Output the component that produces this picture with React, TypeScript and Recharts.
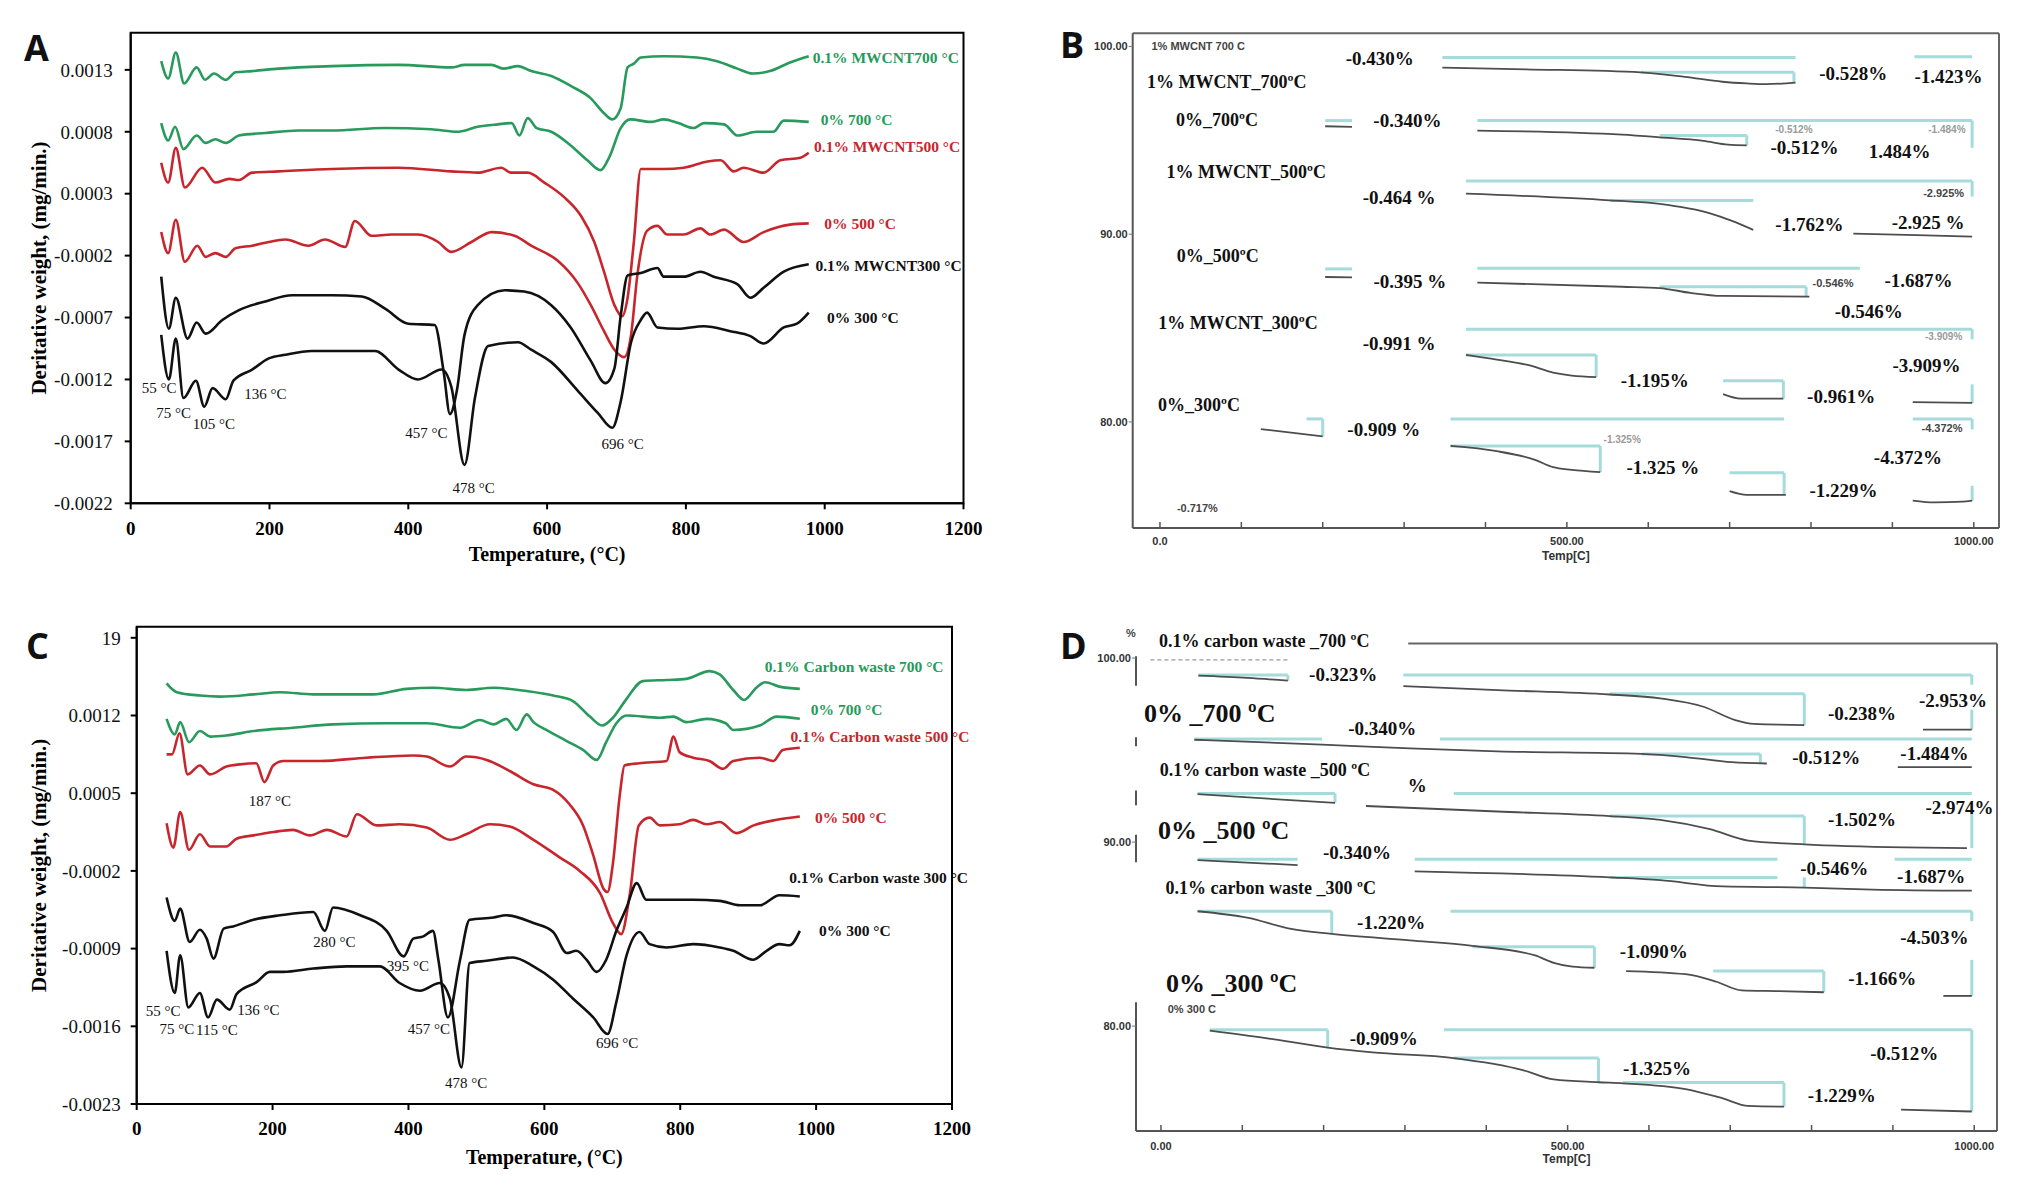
import React from "react";
import {
  LineChart,
  Line,
  XAxis,
  YAxis,
  ReferenceDot,
  ReferenceLine,
  ReferenceArea,
  Label,
} from "recharts";

type Pt = [number, number];
type Txt = [string, number, number];
type HSeg = [number, number, number]; // t1, t2, v
type VSeg = [number, number, number]; // t, v1, v2

const SERIF = '"Liberation Serif", "Times New Roman", serif';
const SANS = '"Liberation Sans", Arial, sans-serif';
const LETTER = '"Open Sans", "Noto Sans", sans-serif';
const GREEN = "#279a5c";
const RED = "#c8262d";
const BLACK = "#111111";
const CYAN = "#a6dbdb";
const GRAY = "#4d4d4d";

// ---------- panel A : DTG, MWCNT ----------
const aMw700: Pt[] = [[44,0.00137],[54,0.00123],[65,0.00144],[77,0.00119],[95,0.00132],[107,0.00122],[120,0.00127],[137,0.00122],[151,0.00128],[175,0.00129],[213,0.00131],[290,0.00133],[386,0.00134],[462,0.00132],[481,0.00134],[520,0.00134],[537,0.00131],[558,0.00133],[577,0.00129],[606,0.00125],[634,0.00117],[663,0.00107],[682,0.00095],[694,0.0009],[706,0.00099],[716,0.00132],[725,0.00135],[735,0.0014],[768,0.00141],[816,0.0014],[845,0.00137],[874,0.00131],[896,0.00127],[921,0.00129],[950,0.00136],[977,0.00141]];
const a0700: Pt[] = [[44,0.00087],[54,0.00073],[64,0.00084],[76,0.00066],[95,0.00077],[108,0.00071],[122,0.00074],[137,0.00071],[156,0.00077],[194,0.00079],[242,0.00081],[290,0.00081],[366,0.00083],[433,0.00082],[472,0.0008],[500,0.00084],[529,0.00086],[549,0.00087],[560,0.00077],[572,0.00091],[585,0.00083],[606,0.0008],[634,0.00069],[658,0.00057],[677,0.00049],[690,0.0006],[706,0.00083],[720,0.0009],[749,0.00088],[768,0.0009],[789,0.00087],[811,0.00083],[826,0.00087],[855,0.00086],[874,0.00077],[902,0.0008],[926,0.0008],[941,0.00089],[977,0.00088]];
const aMw500: Pt[] = [[44,0.00055],[54,0.00039],[65,0.00067],[78,0.00035],[103,0.00051],[122,0.00039],[142,0.00042],[156,0.00041],[175,0.00047],[213,0.00048],[290,0.0005],[386,0.00051],[462,0.00048],[500,0.00047],[534,0.00051],[548,0.00047],[572,0.00047],[596,0.00039],[625,0.00027],[649,0.00012],[668,-0.00009],[682,-0.00033],[697,-0.0006],[708,-0.00069],[716,-0.00054],[725,-0.00009],[735,0.0005],[768,0.0005],[797,0.00051],[831,0.00056],[850,0.00057],[869,0.00048],[883,0.00051],[912,0.00047],[936,0.00057],[965,0.00059],[977,0.00063]];
const a0500: Pt[] = [[44,-0.00001],[54,-0.00018],[65,0.00009],[78,-0.00025],[96,-0.00012],[108,-0.00021],[122,-0.00018],[137,-0.00021],[151,-0.00014],[175,-0.00012],[199,-0.00009],[223,-0.00007],[256,-0.00012],[280,-0.00007],[309,-0.00013],[323,0.00008],[347,-0.00004],[376,-0.00003],[414,-0.00003],[443,-0.00009],[462,-0.00017],[491,-0.00009],[520,-0.00001],[553,-0.00004],[577,-0.00012],[615,-0.00024],[644,-0.00042],[663,-0.0006],[682,-0.00081],[697,-0.00096],[711,-0.00102],[721,-0.00084],[730,-0.00036],[744,0.0],[759,0.00004],[773,-0.00003],[797,-0.00003],[821,0.00002],[835,-0.00003],[855,0.00001],[883,-0.00009],[912,-0.00001],[950,0.00005],[977,0.00006]];
const aMw300: Pt[] = [[44,-0.00037],[55,-0.00079],[65,-0.00054],[82,-0.00087],[95,-0.00074],[108,-0.00083],[132,-0.00072],[156,-0.00064],[194,-0.00057],[233,-0.00052],[290,-0.00052],[333,-0.00053],[367,-0.00063],[400,-0.00075],[438,-0.00076],[451,-0.00114],[460,-0.00148],[470,-0.00129],[481,-0.00084],[500,-0.0006],[539,-0.00048],[567,-0.00049],[606,-0.0006],[634,-0.00078],[663,-0.00105],[684,-0.00123],[697,-0.00111],[706,-0.00069],[716,-0.00036],[735,-0.00034],[759,-0.0003],[768,-0.00037],[797,-0.00037],[821,-0.00033],[840,-0.00037],[874,-0.00043],[893,-0.00054],[912,-0.00046],[941,-0.00033],[977,-0.00027]];
const a0300: Pt[] = [[44,-0.00084],[55,-0.0012],[65,-0.00087],[76,-0.00135],[94,-0.00121],[106,-0.00142],[118,-0.00127],[137,-0.00136],[148,-0.00121],[175,-0.00112],[199,-0.00103],[223,-0.001],[261,-0.00097],[290,-0.00097],[352,-0.00097],[386,-0.00112],[414,-0.0012],[448,-0.00112],[462,-0.00126],[481,-0.00189],[496,-0.00135],[515,-0.00093],[558,-0.0009],[577,-0.00096],[606,-0.00106],[644,-0.00129],[673,-0.00147],[694,-0.00159],[706,-0.00138],[721,-0.0009],[735,-0.00072],[744,-0.00066],[759,-0.00078],[788,-0.00079],[826,-0.00077],[864,-0.00081],[893,-0.00085],[912,-0.00091],[941,-0.00078],[960,-0.00075],[977,-0.00066]];
const aLegend: [string, number, number, string][] = [
  ["0.1% MWCNT700 °C", 1088, 0.0014, GREEN],
  ["0% 700 °C", 1046, 0.0009, GREEN],
  ["0.1% MWCNT500 °C", 1090, 0.00068, RED],
  ["0% 500 °C", 1051, 0.00006, RED],
  ["0.1% MWCNT300 °C", 1092, -0.00028, BLACK],
  ["0% 300 °C", 1055, -0.0007, BLACK],
];
const aNotes: Txt[] = [
  ["55 °C", 41, -0.00127], ["75 °C", 62, -0.00147], ["105 °C", 120, -0.00156],
  ["136 °C", 194, -0.00132], ["457 °C", 426, -0.00163], ["478 °C", 494, -0.00208],
  ["696 °C", 709, -0.00172],
];
const aTicks = [-0.0022, -0.0017, -0.0012, -0.0007, -0.0002, 0.0003, 0.0008, 0.0013];

// ---------- panel C : DTG, carbon waste ----------
const cCw700: Pt[] = [[44,0.00149],[59,0.00141],[93,0.00138],[123,0.00137],[172,0.00139],[211,0.00141],[260,0.00139],[348,0.00139],[397,0.00144],[436,0.00145],[485,0.00143],[525,0.00145],[574,0.00142],[613,0.00138],[642,0.00133],[667,0.00119],[685,0.00111],[701,0.00118],[721,0.00135],[745,0.00151],[780,0.00152],[809,0.00153],[843,0.0016],[858,0.00157],[878,0.00143],[894,0.00134],[912,0.00145],[925,0.0015],[946,0.00146],[976,0.00144]];
const c0700: Pt[] = [[44,0.00117],[56,0.00103],[64,0.00114],[77,0.00096],[93,0.00106],[108,0.00101],[132,0.00102],[172,0.00106],[230,0.00109],[289,0.00112],[368,0.00113],[427,0.00113],[476,0.00109],[505,0.00116],[525,0.00112],[544,0.00117],[559,0.00107],[574,0.00121],[584,0.00114],[603,0.00107],[633,0.00097],[657,0.00089],[677,0.0008],[691,0.00096],[706,0.00113],[721,0.0012],[770,0.00118],[790,0.00119],[809,0.00114],[839,0.00117],[867,0.00113],[878,0.00107],[917,0.00111],[942,0.00119],[976,0.00117]];
const cCw500: Pt[] = [[44,0.00085],[52,0.00085],[63,0.00104],[75,0.00067],[93,0.00075],[108,0.00067],[132,0.00074],[152,0.00076],[176,0.00077],[188,0.0006],[201,0.00075],[216,0.00079],[270,0.00079],[338,0.00082],[407,0.00084],[427,0.00083],[461,0.00074],[485,0.00083],[515,0.0008],[549,0.0007],[584,0.00058],[613,0.00053],[637,0.0004],[657,0.00021],[672,-0.00006],[687,-0.00036],[693,-0.00039],[701,-0.00013],[711,0.00048],[718,0.00075],[740,0.00077],[780,0.00079],[790,0.00101],[799,0.00087],[819,0.00082],[843,0.00079],[863,0.00072],[878,0.00079],[917,0.00082],[937,0.00079],[951,0.00089],[976,0.00091]];
const c0500: Pt[] = [[44,0.00023],[54,0.00001],[64,0.00033],[77,-0.00001],[93,0.00013],[108,0.00002],[132,0.00002],[147,0.00009],[172,0.00012],[201,0.00015],[230,0.00017],[255,0.00012],[280,0.00017],[309,0.00011],[324,0.00031],[353,0.00021],[387,0.00022],[427,0.00019],[461,0.00008],[485,0.00013],[520,0.00022],[549,0.0002],[584,0.00008],[623,-0.00008],[652,-0.0002],[682,-0.0004],[701,-0.00067],[713,-0.00077],[726,-0.0004],[739,0.00021],[755,0.00028],[770,0.00021],[799,0.00022],[819,0.00026],[839,0.00022],[858,0.00024],[883,0.00014],[908,0.00021],[942,0.00026],[976,0.00029]];
const cCw300: Pt[] = [[44,-0.00044],[56,-0.00065],[64,-0.00054],[78,-0.00084],[93,-0.00073],[103,-0.00081],[113,-0.00099],[128,-0.00072],[142,-0.0007],[172,-0.00064],[211,-0.0006],[260,-0.00057],[277,-0.00074],[289,-0.00053],[329,-0.0006],[368,-0.00074],[393,-0.00097],[407,-0.00081],[422,-0.00079],[436,-0.00074],[444,-0.001],[458,-0.00152],[476,-0.001],[490,-0.00064],[525,-0.00062],[544,-0.0006],[584,-0.00067],[613,-0.00075],[633,-0.00094],[647,-0.00092],[662,-0.001],[677,-0.00111],[691,-0.001],[706,-0.00074],[721,-0.00053],[736,-0.00031],[750,-0.00046],[780,-0.00046],[819,-0.00046],[858,-0.00047],[888,-0.00051],[917,-0.00051],[946,-0.00042],[976,-0.00043]];
const c0300: Pt[] = [[44,-0.00092],[56,-0.0013],[64,-0.00096],[76,-0.00143],[93,-0.0013],[105,-0.00152],[118,-0.00136],[137,-0.00145],[147,-0.00131],[177,-0.0012],[196,-0.00111],[216,-0.00111],[260,-0.00108],[309,-0.00106],[358,-0.00106],[387,-0.00121],[417,-0.00128],[446,-0.00121],[461,-0.00135],[478,-0.00197],[490,-0.00103],[515,-0.00101],[554,-0.00098],[584,-0.00106],[613,-0.00118],[642,-0.00135],[672,-0.00152],[693,-0.00167],[706,-0.00138],[721,-0.00096],[740,-0.00075],[755,-0.00086],[780,-0.00089],[819,-0.00086],[858,-0.00089],[878,-0.00092],[907,-0.001],[927,-0.00092],[946,-0.00086],[961,-0.00087],[976,-0.00074]];
const cLegend: [string, number, number, string][] = [
  ["0.1% Carbon waste 700 °C", 1056, 0.00164, GREEN],
  ["0% 700 °C", 1045, 0.00125, GREEN],
  ["0.1% Carbon waste 500 °C", 1094, 0.00101, RED],
  ["0% 500 °C", 1051, 0.00028, RED],
  ["0.1% Carbon waste 300 °C", 1092, -0.00026, BLACK],
  ["0% 300 °C", 1057, -0.00074, BLACK],
];
const cNotes: Txt[] = [
  ["187 °C", 196, 0.00043], ["280 °C", 291, -0.00084], ["395 °C", 399, -0.00106],
  ["55 °C", 39, -0.00146], ["136 °C", 179, -0.00145], ["75 °C", 59, -0.00162],
  ["115 °C", 118, -0.00163], ["457 °C", 430, -0.00162], ["478 °C", 485, -0.00211],
  ["696 °C", 707, -0.00175],
];
const cTicks = [-0.0023, -0.0016, -0.0009, -0.0002, 0.0005, 0.0012, 0.0019];

// ---------- panel B : TGA, MWCNT ----------
const bCurves: Pt[][] = [
  [[347,98.87],[450,98.78],[591,98.62],[645,98.38],[691,98.12],[721,98.03],[745,97.99],[781,98.07]],
  [[203,95.75],[236,95.72]],
  [[390,95.52],[568,95.3],[614,95.16],[668,94.97],[698,94.77],[721,94.73]],
  [[376,92.16],[553,91.8],[614,91.61],[675,91.12],[702,90.72],[729,90.23]],
  [[852,90.03],[930,89.95],[998,89.87]],
  [[203,87.72],[236,87.7]],
  [[390,87.42],[568,87.2],[614,87.13],[652,86.87],[691,86.71],[798,86.67]],
  [[376,83.57],[414,83.32],[453,83.02],[483,82.63],[506,82.47],[536,82.39]],
  [[692,81.48],[714,81.24],[766,81.24]],
  [[925,81.05],[998,81.01]],
  [[124,79.62],[200,79.23]],
  [[357,78.72],[414,78.44],[460,77.99],[483,77.59],[506,77.45],[541,77.33]],
  [[700,76.31],[721,76.11],[769,76.11]],
  [[925,75.81],[952,75.71],[986,75.75],[998,75.81]],
];
const bCyanH: HSeg[] = [
  [347,781,99.41],[927,998,99.45],[591,779,98.62],
  [203,236,96.05],[390,998,96.05],[614,721,95.26],
  [376,998,92.83],[553,729,91.8],
  [203,236,88.15],[390,860,88.19],[614,794,87.2],
  [376,998,84.94],[376,536,83.57],[692,766,82.19],
  [180,200,80.16],[357,767,80.16],[357,541,78.72],[700,767,77.29],[925,998,80.16],
];
const bCyanV: VSeg[] = [
  [779,98.62,98.07],[998,96.05,94.6],[721,95.26,94.73],[998,92.83,92.0],[794,87.2,86.67],
  [998,84.94,84.4],[536,83.57,82.39],[766,82.19,81.24],[998,82.0,81.0],[200,80.16,79.23],
  [541,78.72,77.33],[767,77.29,76.11],[998,80.16,79.6],[998,76.6,75.8],
];
const bNames: Txt[] = [
  ["1% MWCNT_700ºC", 82, 98.12], ["0%_700ºC", 70, 96.08], ["1% MWCNT_500ºC", 106, 93.33],
  ["0%_500ºC", 71, 88.85], ["1% MWCNT_300ºC", 96, 85.29], ["0%_300ºC", 48, 80.89],
];
const bPercents: Txt[] = [
  ["-0.430%", 270, 99.37], ["-0.528%", 852, 98.58], ["-1.423%", 969, 98.42],
  ["-0.340%", 304, 96.08], ["-0.512%", 792, 94.63], ["1.484%", 909, 94.43],
  ["-0.464 %", 294, 91.94], ["-1.762%", 798, 90.52], ["-2.925 %", 944, 90.62],
  ["-0.395 %", 307, 87.5], ["-1.687%", 932, 87.52], ["-0.546%", 871, 85.88],
  ["-0.991 %", 294, 84.2], ["-1.195%", 608, 82.23], ["-0.961%", 837, 81.34],
  ["-3.909%", 942, 82.98], ["-0.909 %", 275, 79.6], ["-1.325 %", 618, 77.59],
  ["-1.229%", 840, 76.35], ["-4.372%", 919, 78.12],
];
const bSmall: Txt[] = [
  ["1% MWCNT 700 C", 47, 100.0], ["-2.925%", 963, 92.2], ["-0.546%", 827, 87.4],
  ["-4.372%", 961, 79.66], ["-0.717%", 46, 75.42],
];
const bFaint: Txt[] = [
  ["-0.512%", 779, 95.6], ["-1.484%", 967, 95.6], ["-3.909%", 963, 84.55], ["-1.325%", 568, 79.07],
];

// ---------- panel D : TGA, carbon waste ----------
const dCurves: Pt[][] = [
  [[46,99.04],[106,98.92],[156,98.77]],
  [[298,98.47],[414,98.26],[552,98.02],[614,97.81],[668,97.34],[706,96.63],[729,96.42],[791,96.36]],
  [[937,96.11],[997,96.11]],
  [[41,95.56],[198,95.3],[306,95.09],[414,94.93],[591,94.79],[645,94.62],[702,94.34],[745,94.27]],
  [[906,94.07],[997,94.07]],
  [[45,92.6],[214,92.13]],
  [[252,91.96],[414,91.66],[552,91.41],[614,91.21],[675,90.7],[722,90.08],[791,89.88],[914,89.71],[991,89.67]],
  [[45,89.02],[168,88.75]],
  [[312,88.41],[552,88.08],[614,87.93],[691,87.59],[791,87.53],[875,87.42],[997,87.36]],
  [[45,86.24],[106,85.89],[160,85.28],[210,85.01],[306,84.66],[383,84.36],[460,83.84],[483,83.44],[506,83.23],[533,83.17]],
  [[572,82.99],[645,82.82],[683,82.41],[714,81.94],[760,81.9],[815,81.84]],
  [[962,81.64],[997,81.64]],
  [[60,79.76],[129,79.35],[205,78.83],[260,78.57],[360,78.26],[445,77.61],[483,77.1],[538,76.95],[568,76.89],[645,76.58],[691,76.07],[722,75.66],[766,75.62]],
  [[910,75.46],[997,75.36]],
];
const dCyanH: HSeg[] = [
  [46,156,99.08],[298,997,99.08],[552,791,98.06],
  [41,198,95.6],[343,997,95.6],[591,737,94.79],
  [45,214,92.64],[360,997,92.64],[552,791,91.41],
  [45,168,89.06],[312,758,89.06],[552,758,88.08],[902,997,89.06],
  [45,210,86.24],[356,997,86.24],[383,533,84.31],[679,815,82.99],
  [60,205,79.8],[348,997,79.8],[360,538,78.26],[568,766,76.93],
];
const dCyanV: VSeg[] = [
  [156,99.08,98.77],[997,99.08,98.55],[791,98.06,96.36],[997,97.2,96.11],[737,94.79,94.27],
  [214,92.64,92.13],[997,91.6,89.67],[791,91.41,89.88],[791,88.08,87.53],[210,86.24,85.01],
  [997,86.24,85.7],[533,84.31,83.17],[815,82.99,81.84],[997,83.6,81.64],[205,79.8,78.83],
  [997,79.8,75.36],[538,78.26,76.95],[766,76.93,75.62],
];
const dNames: Txt[] = [
  ["0.1% carbon waste _700 ºC", 127, 100.92], ["0.1% carbon waste _500 ºC", 128, 93.93],
  ["0.1% carbon waste _300 ºC", 135, 87.53],
];
const dBigNames: Txt[] = [
  ["0% _700 ºC", 60, 97.01], ["0% _500 ºC", 77, 90.65], ["0% _300 ºC", 87, 82.31],
];
const dPercents: Txt[] = [
  ["-0.323%", 224, 99.08], ["-0.340%", 272, 96.18], ["-0.238%", 862, 96.99],
  ["-2.953%", 974, 97.69], ["-0.512%", 818, 94.58], ["-1.484%", 951, 94.79],
  ["%", 315, 93.05], ["-1.502%", 862, 91.21], ["-2.974%", 982, 91.86],
  ["-0.340%", 241, 89.43], ["-0.546%", 828, 88.55], ["-1.687%", 947, 88.14],
  ["-1.220%", 283, 85.64], ["-1.090%", 606, 84.05], ["-4.503%", 951, 84.83],
  ["-1.166%", 887, 82.56], ["-0.909%", 274, 79.35], ["-1.325%", 610, 77.71],
  ["-0.512%", 914, 78.53], ["-1.229%", 837, 76.22],
];
const dSmall: Txt[] = [["%", -37, 101.36], ["0% 300 C", 38, 80.92]];
const dDotted: HSeg[] = [[-13, 156, 99.9]];
// visible pieces of panel D's left axis (the rest is covered in the original)
const dLeftAxis: [number, number][] = [[98.5, 100.1], [95.2, 95.7], [92.0, 92.8], [88.9, 90.4], [74.3, 81.3]];
const tgaMinor = [0, 100, 200, 300, 400, 500, 600, 700, 800, 900, 1000];
const tgaTicks = [80, 90, 100];

const toRows = (a: Pt[]) => a.map(([t, v]) => ({ t, v }));

const textShape =
  (txt: string, style: Record<string, any>) =>
  (p: any) =>
    (
      <text x={p.cx} y={p.cy} textAnchor="middle" dominantBaseline="central" {...style}>
        {txt}
      </text>
    );

function note(key: string, txt: string, t: number, v: number, style: Record<string, any>) {
  return (
    <ReferenceDot
      key={key}
      x={t}
      y={v}
      r={0}
      ifOverflow="visible"
      shape={textShape(txt, style)}
    />
  );
}

interface DtgProps {
  left: number;
  top: number;
  plot: { l: number; t: number; r: number; b: number };
  yDomain: [number, number];
  yTicks: number[];
  yFmt: (v: number) => string;
  series: { pts: Pt[]; color: string }[];
  legend: [string, number, number, string][];
  notes: Txt[];
  yTickMargin: number;
  xTitleOffset: number;
}

function DtgPanel(p: DtgProps) {
  const W = 1030;
  const H = 590;
  return (
    <div style={{ position: "absolute", left: p.left, top: p.top }}>
      <LineChart width={W} height={H} margin={{ top: p.plot.t, right: W - p.plot.r, left: 0, bottom: 0 }}>
        <XAxis
          type="number"
          dataKey="t"
          domain={[0, 1200]}
          ticks={[0, 200, 400, 600, 800, 1000, 1200]}
          allowDataOverflow
          height={H - p.plot.b}
          tickSize={6}
          tickMargin={12}
          axisLine={{ stroke: "#000", strokeWidth: 2 }}
          tickLine={{ stroke: "#000", strokeWidth: 2 }}
          tick={{ fill: "#000", fontFamily: SERIF, fontSize: 19, fontWeight: 700 }}
        >
          <Label
            value="Temperature, (°C)"
            position="insideBottom"
            offset={p.xTitleOffset}
            fill="#000"
            fontFamily={SERIF}
            fontSize={20}
            fontWeight={700}
          />
        </XAxis>
        <YAxis
          type="number"
          dataKey="v"
          domain={p.yDomain}
          ticks={p.yTicks}
          tickFormatter={p.yFmt}
          allowDataOverflow
          width={p.plot.l}
          tickSize={6}
          tickMargin={p.yTickMargin}
          axisLine={{ stroke: "#000", strokeWidth: 2 }}
          tickLine={{ stroke: "#000", strokeWidth: 2 }}
          tick={{ fill: "#111", fontFamily: SERIF, fontSize: 19 }}
        >
          <Label
            value="Deritative weight, (mg/min.)"
            angle={-90}
            position="insideLeft"
            offset={39}
            fill="#000"
            fontFamily={SERIF}
            fontSize={21}
            fontWeight={700}
            style={{ textAnchor: "middle" }}
          />
        </YAxis>
        <ReferenceArea
          x1={0}
          x2={1200}
          y1={p.yDomain[0]}
          y2={p.yDomain[1]}
          fill="none"
          stroke="#000"
          strokeWidth={2}
          ifOverflow="visible"
        />
        {p.series.map((s, i) => (
          <Line
            key={i}
            data={toRows(s.pts)}
            dataKey="v"
            type="monotone"
            stroke={s.color}
            strokeWidth={2.6}
            dot={false}
            isAnimationActive={false}
          />
        ))}
        {p.legend.map(([txt, t, v, c], i) =>
          note("lg" + i, txt, t, v, { fill: c, fontFamily: SERIF, fontSize: 15.5, fontWeight: 700 })
        )}
        {p.notes.map(([txt, t, v], i) =>
          note("nt" + i, txt, t, v, { fill: "#111", fontFamily: SERIF, fontSize: 15 })
        )}
      </LineChart>
    </div>
  );
}

interface TgaProps {
  left: number;
  top: number;
  plot: { l: number; t: number; r: number; b: number };
  xDomain: [number, number];
  yDomain: [number, number];
  zeroLabel: string;
  curves: Pt[][];
  cyanH: HSeg[];
  cyanV: VSeg[];
  dotted: HSeg[];
  names: Txt[];
  bigNames: Txt[];
  percents: Txt[];
  small: Txt[];
  faint: Txt[];
  leftAxis: [number, number][] | null;
  topFrom: number | null;
  xTickMargin: number;
  xTitleOffset: number;
}

function TgaPanel(p: TgaProps) {
  const W = 997;
  const H = 590;
  const [x0, x1] = p.xDomain;
  const [y0, y1] = p.yDomain;
  const tickLen = ((y1 - y0) * 6) / (p.plot.b - p.plot.t);
  const frame = "#666";
  return (
    <div style={{ position: "absolute", left: p.left, top: p.top }}>
      <LineChart width={W} height={H} margin={{ top: p.plot.t, right: W - p.plot.r, left: 0, bottom: 0 }}>
        <XAxis
          type="number"
          dataKey="t"
          domain={p.xDomain}
          ticks={[0, 500, 1000]}
          tickFormatter={(v: number) => (v === 0 ? p.zeroLabel : v.toFixed(2))}
          allowDataOverflow
          height={H - p.plot.b}
          tickLine={false}
          tickSize={0}
          tickMargin={p.xTickMargin}
          axisLine={{ stroke: "#555", strokeWidth: 2 }}
          tick={{ fill: "#333", fontFamily: SANS, fontSize: 11, fontWeight: 700 }}
        >
          <Label
            value="Temp[C]"
            position="insideBottom"
            offset={p.xTitleOffset}
            fill="#333"
            fontFamily={SANS}
            fontSize={12}
            fontWeight={700}
          />
        </XAxis>
        <YAxis
          type="number"
          dataKey="v"
          domain={p.yDomain}
          ticks={tgaTicks}
          tickFormatter={(v: number) => v.toFixed(2)}
          allowDataOverflow
          width={p.plot.l}
          tickSize={4}
          tickMargin={1}
          axisLine={p.leftAxis ? false : { stroke: "#555", strokeWidth: 2 }}
          tickLine={{ stroke: "#777", strokeWidth: 1 }}
          tick={{ fill: "#333", fontFamily: SANS, fontSize: 11, fontWeight: 700 }}
        />
        {p.leftAxis
          ? p.leftAxis.map(([a, b], i) => (
              <ReferenceLine
                key={"la" + i}
                segment={[{ x: x0, y: a }, { x: x0, y: b }]}
                stroke="#555"
                strokeWidth={2}
                ifOverflow="visible"
              />
            ))
          : null}
        <ReferenceLine
          segment={[{ x: p.topFrom === null ? x0 : p.topFrom, y: y1 }, { x: x1, y: y1 }]}
          stroke={frame}
          strokeWidth={2}
          ifOverflow="visible"
        />
        <ReferenceLine
          segment={[{ x: x1, y: y0 }, { x: x1, y: y1 }]}
          stroke={frame}
          strokeWidth={2}
          ifOverflow="visible"
        />
        {tgaMinor.map((t) => (
          <ReferenceLine
            key={"mt" + t}
            segment={[{ x: t, y: y0 }, { x: t, y: y0 + tickLen }]}
            stroke="#555"
            strokeWidth={1.5}
            ifOverflow="visible"
          />
        ))}
        {p.dotted.map(([a, b, v], i) => (
          <ReferenceLine
            key={"dt" + i}
            segment={[{ x: a, y: v }, { x: b, y: v }]}
            stroke="#999"
            strokeWidth={1.2}
            strokeDasharray="4 3"
            ifOverflow="visible"
          />
        ))}
        {p.cyanH.map(([a, b, v], i) => (
          <ReferenceLine
            key={"ch" + i}
            segment={[{ x: a, y: v }, { x: b, y: v }]}
            stroke={CYAN}
            strokeWidth={3}
            ifOverflow="visible"
          />
        ))}
        {p.cyanV.map(([t, a, b], i) => (
          <ReferenceLine
            key={"cv" + i}
            segment={[{ x: t, y: a }, { x: t, y: b }]}
            stroke={CYAN}
            strokeWidth={3}
            ifOverflow="visible"
          />
        ))}
        {p.curves.map((c, i) => (
          <Line
            key={i}
            data={toRows(c)}
            dataKey="v"
            type="monotone"
            stroke={GRAY}
            strokeWidth={1.8}
            dot={false}
            isAnimationActive={false}
          />
        ))}
        {p.faint.map(([txt, t, v], i) =>
          note("fa" + i, txt, t, v, { fill: "#9a9a9a", fontFamily: SANS, fontSize: 10, fontWeight: 700 })
        )}
        {p.names.map(([txt, t, v], i) =>
          note("nm" + i, txt, t, v, { fill: "#111", fontFamily: SERIF, fontSize: 18, fontWeight: 700 })
        )}
        {p.bigNames.map(([txt, t, v], i) =>
          note("bn" + i, txt, t, v, { fill: "#111", fontFamily: SERIF, fontSize: 26, fontWeight: 700 })
        )}
        {p.percents.map(([txt, t, v], i) =>
          note("pc" + i, txt, t, v, { fill: "#111", fontFamily: SERIF, fontSize: 19, fontWeight: 700 })
        )}
        {p.small.map(([txt, t, v], i) =>
          note("sm" + i, txt, t, v, { fill: "#444", fontFamily: SANS, fontSize: 11, fontWeight: 700 })
        )}
      </LineChart>
    </div>
  );
}

const letterStyle = (left: number, top: number): React.CSSProperties => ({
  position: "absolute",
  left,
  top,
  fontFamily: LETTER,
  fontWeight: 700,
  fontSize: 36,
  lineHeight: "36px",
  color: "#111",
});

export default function App() {
  return (
    <div
      style={{
        position: "absolute",
        left: 0,
        top: 0,
        width: 2037,
        height: 1190,
        background: "#fff",
        overflow: "hidden",
      }}
    >
      <DtgPanel
        left={0}
        top={0}
        plot={{ l: 130.7, t: 32.7, r: 963.5, b: 503.3 }}
        yDomain={[-0.0022, 0.0016]}
        yTicks={aTicks}
        yFmt={(v) => v.toFixed(4)}
        series={[
          { pts: aMw700, color: GREEN },
          { pts: a0700, color: GREEN },
          { pts: aMw500, color: RED },
          { pts: a0500, color: RED },
          { pts: aMw300, color: BLACK },
          { pts: a0300, color: BLACK },
        ]}
        legend={aLegend}
        notes={aNotes}
        yTickMargin={12}
        xTitleOffset={29}
      />
      <DtgPanel
        left={0}
        top={600}
        plot={{ l: 136.7, t: 26.7, r: 952, b: 504 }}
        yDomain={[-0.0023, 0.002]}
        yTicks={cTicks}
        yFmt={(v) => (Math.abs(v - 0.0019) < 1e-9 ? "19" : v.toFixed(4))}
        series={[
          { pts: cCw700, color: GREEN },
          { pts: c0700, color: GREEN },
          { pts: cCw500, color: RED },
          { pts: c0500, color: RED },
          { pts: cCw300, color: BLACK },
          { pts: c0300, color: BLACK },
        ]}
        legend={cLegend}
        notes={cNotes}
        yTickMargin={10}
        xTitleOffset={26}
      />
      <TgaPanel
        left={1040}
        top={0}
        plot={{ l: 92.7, t: 33.3, r: 959, b: 528 }}
        xDomain={[-33.5, 1031]}
        yDomain={[74.35, 100.7]}
        zeroLabel="0.0"
        curves={bCurves}
        cyanH={bCyanH}
        cyanV={bCyanV}
        dotted={[]}
        names={bNames}
        bigNames={[]}
        percents={bPercents}
        small={bSmall}
        faint={bFaint}
        leftAxis={null}
        topFrom={null}
        xTickMargin={9}
        xTitleOffset={30}
      />
      <TgaPanel
        left={1040}
        top={600}
        plot={{ l: 96, t: 43.5, r: 957, b: 531 }}
        xDomain={[-30.7, 1028]}
        yDomain={[74.3, 100.79]}
        zeroLabel="0.00"
        curves={dCurves}
        cyanH={dCyanH}
        cyanV={dCyanV}
        dotted={dDotted}
        names={dNames}
        bigNames={dBigNames}
        percents={dPercents}
        small={dSmall}
        faint={[]}
        leftAxis={dLeftAxis}
        topFrom={304}
        xTickMargin={11}
        xTitleOffset={27}
      />
      <div style={letterStyle(24, 30)}>A</div>
      <div style={letterStyle(1060, 27)}>B</div>
      <div style={letterStyle(26, 628)}>C</div>
      <div style={letterStyle(1060, 628)}>D</div>
    </div>
  );
}
